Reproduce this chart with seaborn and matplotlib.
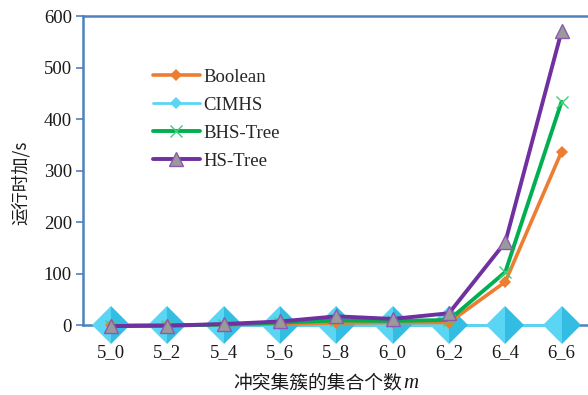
import numpy as np
import pandas as pd
import matplotlib
matplotlib.use("Agg")
import matplotlib.pyplot as plt
from matplotlib.lines import Line2D
import seaborn as sns

categories = ["5_0", "5_2", "5_4", "5_6", "5_8", "6_0", "6_2", "6_4", "6_6"]
boolean = [0, 0, 1, 2, 4, 5, 5, 84, 337]
cimhs = [0, 0, 0, 0, 0, 0, 0, 0, 0]
bhs_tree = [-2, -1, 1, 5, 9, 8, 10, 103, 434]
hs_tree = [-2, -1, 2, 7, 17, 12, 23, 161, 571]
y_ticks = [0, 100, 200, 300, 400, 500, 600]

sns.set_theme(style="white")
plt.rcParams["font.family"] = ["Liberation Serif", "Noto Sans CJK SC", "DejaVu Sans"]

spine_blue = "#4f81bd"
text_color = "#1a1a1a"
c_orange = "#ed7d31"
c_cyan = "#5ad6f4"
c_cyan_dark = "#33bde3"
c_green = "#00b050"
c_purple = "#7030a0"

df = pd.DataFrame({"m": categories, "Boolean": boolean, "CIMHS": cimhs,
                   "BHS-Tree": bhs_tree, "HS-Tree": hs_tree})

fig = plt.figure(figsize=(5.88, 3.95), dpi=100)
ax = fig.add_axes([0.141, 0.177, 0.862, 0.782])

sns.lineplot(data=df, x="m", y="CIMHS", ax=ax, color=c_cyan, lw=2.0,
             marker="D", markersize=19, markerfacecolor=c_cyan,
             markerfacecoloralt=c_cyan_dark, fillstyle="left",
             markeredgewidth=0, clip_on=False, zorder=3)
sns.lineplot(data=df, x="m", y="Boolean", ax=ax, color=c_orange, lw=2.6,
             marker="D", markersize=6, markeredgewidth=0, clip_on=False, zorder=4)
sns.lineplot(data=df, x="m", y="BHS-Tree", ax=ax, color=c_green, lw=2.8,
             marker="x", markersize=9, markeredgecolor="#3dcf7a",
             markeredgewidth=1.0, clip_on=False, zorder=5)
sns.lineplot(data=df, x="m", y="HS-Tree", ax=ax, color=c_purple, lw=2.8,
             marker="^", markersize=10, markerfacecolor="#9a9a9a",
             markeredgecolor="#8a5ab0", markeredgewidth=1.0, clip_on=False, zorder=6)

ax.set_xlim(-0.5, len(categories) - 0.5)
ax.set_ylim(0, 600)
ax.set_yticks(y_ticks)
ax.set_yticklabels([str(v) for v in y_ticks])

for side in ["left", "top", "bottom"]:
    ax.spines[side].set_color(spine_blue)
    ax.spines[side].set_linewidth(1.8)
ax.spines["right"].set_visible(False)

ax.tick_params(axis="y", which="major", left=True, length=5, width=1.2,
               color=spine_blue, labelsize=13.5, pad=3, labelcolor=text_color)
ax.tick_params(axis="x", which="major", bottom=False, labelsize=13.5, pad=8,
               labelcolor=text_color)

ax.set_ylabel("运行时加/s", fontsize=12.5, color=text_color,
              family=["Noto Sans CJK SC", "Liberation Serif"])
ax.yaxis.set_label_coords(-0.105, 0.46)
ax.set_xlabel("")

# x-axis title: CJK text followed by an italic serif "m"
xlab = fig.text(0.396, 0.005, "冲突集簇的集合个数", fontsize=13.5, color=text_color,
                family=["Noto Sans CJK SC"], ha="left", va="bottom")
ax.annotate("m", xy=(1, 0), xycoords=xlab, xytext=(1, 0), textcoords="offset points",
            fontsize=15, style="italic", family=["Liberation Serif"],
            color=text_color, ha="left", va="bottom")

handles = [
    Line2D([], [], color=c_orange, lw=2.6, marker="D", markersize=6, markeredgewidth=0),
    Line2D([], [], color=c_cyan, lw=2.0, marker="D", markersize=6,
           markerfacecolor=c_cyan, markeredgewidth=0),
    Line2D([], [], color=c_green, lw=2.8, marker="x", markersize=9,
           markeredgecolor="#3dcf7a", markeredgewidth=1.0),
    Line2D([], [], color=c_purple, lw=2.8, marker="^", markersize=10,
           markerfacecolor="#9a9a9a", markeredgecolor="#8a5ab0", markeredgewidth=1.0),
]
ax.legend(handles, ["Boolean", "CIMHS", "BHS-Tree", "HS-Tree"],
          loc="upper left", bbox_to_anchor=(0.247, 0.845), bbox_transform=fig.transFigure,
          frameon=False, fontsize=13.5, handlelength=2.5, handletextpad=0.2,
          labelspacing=0.58, borderaxespad=0)

fig.savefig("out.png", dpi=100)
